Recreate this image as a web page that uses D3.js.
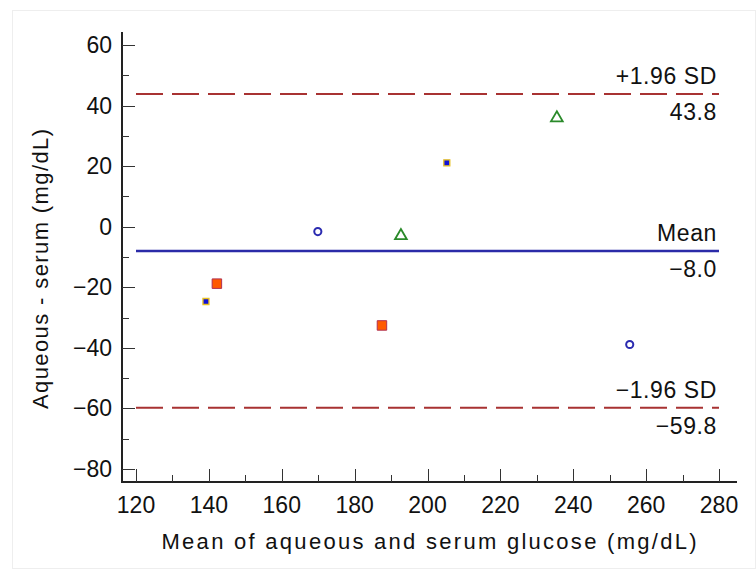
<!DOCTYPE html>
<html lang="en">
<head>
<meta charset="utf-8">
<title>Bland-Altman plot</title>
<script src="https://d3js.org/d3.v7.min.js"></script>
<style>
  body { margin: 0; background: #fff; }
  svg text { font-family: "Liberation Sans", Arial, sans-serif; fill: #111; }
</style>
</head>
<body>
<div id="canvas"></div>
<script>
// values
const xTicks = [120, 140, 160, 180, 200, 220, 240, 260, 280]
const yTicks = [-80, -60, -40, -20, 0, 20, 40, 60]

const meanX  = [139.2, 205.3, 142.2, 187.5, 169.9, 255.5, 192.7, 235.5]
const diffY  = [-24.7, 21.1, -18.8, -32.6, -1.6, -38.9, -3.0, 35.9]
const group  = ["dot", "dot", "square", "square", "circle", "circle", "triangle", "triangle"]

const meanDiff = -8.0
const upperLoA = 43.8
const lowerLoA = -59.8

const width = 756, height = 569

const svg = d3.select("#canvas").append("svg")
  .attr("width", width)
  .attr("height", height)

// faint figure border
svg.append("rect")
  .attr("x", 12.5).attr("y", 10.5)
  .attr("width", width - 13).attr("height", height - 11)
  .attr("fill", "none").attr("stroke", "#eeeeee")

const x = d3.scaleLinear().domain([120, 280]).range([136, 719])
const y = d3.scaleLinear().domain([-80, 60]).range([469, 45])

const axLeft = 122, axBottom = 482
const xEnd = 737, yTop = 32

const fmt = d => d < 0 ? "\u2212" + Math.abs(d).toFixed(1).replace(/\.0$/, "") : String(d)

// y axis
const yAxis = svg.append("g")
yAxis.append("line")
  .attr("x1", axLeft).attr("x2", axLeft)
  .attr("y1", yTop).attr("y2", axBottom + 1)
  .attr("stroke", "#222").attr("stroke-width", 2)
d3.range(-80, 61, 10).forEach(v => {
  const major = v % 20 === 0
  yAxis.append("line")
    .attr("x1", axLeft).attr("x2", axLeft + (major ? 13 : 7))
    .attr("y1", Math.round(y(v)) + 0.5).attr("y2", Math.round(y(v)) + 0.5)
    .attr("stroke", "#333").attr("stroke-width", 1)
})
yAxis.selectAll("text.tick").data(yTicks).join("text")
  .attr("class", "tick")
  .attr("x", 112).attr("y", d => y(d) + 8)
  .attr("text-anchor", "end")
  .style("font-size", "23px")
  .text(fmt)

// x axis
const xAxis = svg.append("g")
xAxis.append("line")
  .attr("x1", axLeft - 1).attr("x2", xEnd)
  .attr("y1", axBottom).attr("y2", axBottom)
  .attr("stroke", "#222").attr("stroke-width", 2)
d3.range(120, 281, 10).forEach(v => {
  const major = v % 20 === 0
  xAxis.append("line")
    .attr("x1", Math.round(x(v)) + 0.5).attr("x2", Math.round(x(v)) + 0.5)
    .attr("y1", axBottom).attr("y2", axBottom - (major ? 13 : 7))
    .attr("stroke", "#333").attr("stroke-width", 1)
})
xAxis.selectAll("text.tick").data(xTicks).join("text")
  .attr("class", "tick")
  .attr("x", d => x(d)).attr("y", 513)
  .attr("text-anchor", "middle")
  .style("font-size", "23px")
  .text(fmt)

// axis titles
svg.append("text")
  .attr("x", 429).attr("y", 549)
  .attr("text-anchor", "middle")
  .attr("textLength", 535)
  .attr("lengthAdjust", "spacing")
  .style("font-size", "22px")
  .text("Mean of aqueous and serum glucose (mg/dL)")
svg.append("text")
  .attr("transform", "translate(48,269) rotate(-90)")
  .attr("text-anchor", "middle")
  .attr("textLength", 280)
  .attr("lengthAdjust", "spacing")
  .style("font-size", "22px")
  .text("Aqueous - serum (mg/dL)")

// reference lines
const refs = [
  {v: upperLoA, top: "+1.96 SD", bottom: "43.8", color: "#a83232", dash: "27,9", w: 2},
  {v: meanDiff, top: "Mean", bottom: "\u22128.0", color: "#2b2ba8", dash: null, w: 2.5},
  {v: lowerLoA, top: "\u22121.96 SD", bottom: "\u221259.8", color: "#a83232", dash: "27,9", w: 2}
]
refs.forEach(r => {
  svg.append("line")
    .attr("x1", x(120)).attr("x2", x(280))
    .attr("y1", y(r.v)).attr("y2", y(r.v))
    .attr("stroke", r.color)
    .attr("stroke-width", r.w)
    .attr("stroke-dasharray", r.dash)
  svg.append("text")
    .attr("x", 717).attr("y", y(r.v) - 10)
    .attr("text-anchor", "end")
    .style("font-size", "23px")
    .style("letter-spacing", "0.6px")
    .text(r.top)
  svg.append("text")
    .attr("x", 717).attr("y", y(r.v) + 26)
    .attr("text-anchor", "end")
    .style("font-size", "23px")
    .style("letter-spacing", "0.6px")
    .text(r.bottom)
})

// points
const pts = meanX.map((m, i) => ({m: m, d: diffY[i], g: group[i]}))
const sym = {
  dot:      {shape: d3.symbolSquare, size: 36, fill: "#1010d8", stroke: "#e8c020", sw: 1.3},
  square:   {shape: d3.symbolSquare, size: 90, fill: "#ff5a00", stroke: "#b03050", sw: 1},
  circle:   {shape: d3.symbolCircle, size: 40, fill: "none", stroke: "#2b2bb0", sw: 2},
  triangle: {shape: d3.symbolTriangle, size: 60, fill: "none", stroke: "#2a8a2a", sw: 1.8}
}
svg.append("g").selectAll("path")
  .data(pts)
  .join("path")
    .attr("transform", d => `translate(${x(d.m)},${y(d.d)})`)
    .attr("d", d => d3.symbol().type(sym[d.g].shape).size(sym[d.g].size)())
    .attr("fill", d => sym[d.g].fill)
    .attr("stroke", d => sym[d.g].stroke)
    .attr("stroke-width", d => sym[d.g].sw)
</script>
</body>
</html>
